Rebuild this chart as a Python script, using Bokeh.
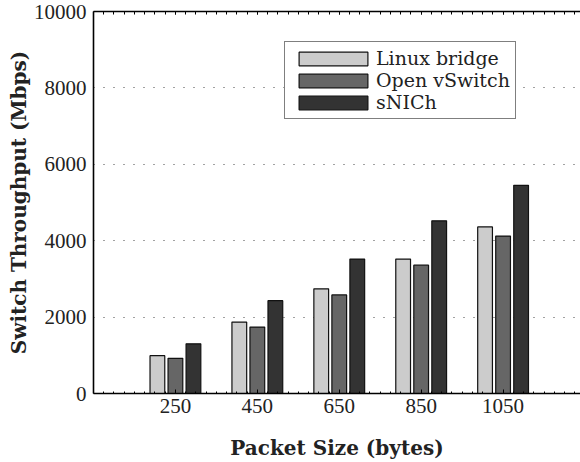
from bokeh.plotting import figure
from bokeh.models import (ColumnDataSource, Range1d, LinearAxis, FixedTicker,
                          Legend, LegendItem)
from bokeh.transform import dodge
from bokeh.embed import file_html
from bokeh.resources import INLINE

# ---- data ----
packet_sizes = [250, 450, 650, 850, 1050]
linux_bridge = [990, 1870, 2740, 3520, 4360]
open_vswitch = [920, 1740, 2580, 3360, 4120]
snich = [1300, 2430, 3520, 4520, 5450]
y_ticks = [0, 2000, 4000, 6000, 8000, 10000]
series_names = ["Linux bridge", "Open vSwitch", "sNICh"]

src = ColumnDataSource(dict(size=packet_sizes, linux=linux_bridge,
                            ovs=open_vswitch, snich=snich))

TICK_FONT = "Liberation Serif"
LEG_FONT = "DejaVu Serif"
BOLD_FONT = "DejaVu Serif"

X_START, X_END = 50, 1239
minor_x = list(range(X_START, X_END, 25))

p = figure(width=580, height=462, output_backend="svg", toolbar_location=None,
           x_range=Range1d(X_START, X_END), y_range=Range1d(0, 10000),
           min_border_left=93, min_border_right=0, min_border_top=11,
           min_border_bottom=69)
p.background_fill_color = "white"
p.border_fill_color = "white"
p.outline_line_color = None
p.outline_line_alpha = 0
p.outline_line_width = 0

bar_w = 36
off = 44
colors = ["#cccccc", "#666666", "#333333"]
fields = ["linux", "ovs", "snich"]
renderers = []
for f, c, d in zip(fields, colors, [-off, 0, off]):
    r = p.vbar(x=dodge("size", d, range=p.x_range), top=f, width=bar_w,
               bottom=0, source=src, fill_color=c, line_color="#111111",
               line_width=1.2)
    renderers.append(r)

# axes
xa = p.xaxis[0]
xa.ticker = FixedTicker(ticks=packet_sizes, minor_ticks=minor_x)
xa.axis_label = "Packet Size (bytes)"
xa.axis_label_text_font = BOLD_FONT
xa.axis_label_text_font_style = "bold"
xa.axis_label_text_font_size = "20px"
xa.axis_label_text_color = "#222222"
xa.axis_label_standoff = 20
xa.major_label_text_font = TICK_FONT
xa.major_label_text_font_size = "21px"
xa.major_label_text_color = "#222222"
xa.major_label_standoff = 5
xa.major_tick_in = 4
xa.major_tick_out = 0
xa.minor_tick_in = 2
xa.minor_tick_out = 0
xa.axis_line_width = 1.6
xa.axis_line_color = "black"

ya = p.yaxis[0]
ya.ticker = FixedTicker(ticks=y_ticks)
ya.axis_label = "Switch Throughput (Mbps)"
ya.axis_label_text_font = BOLD_FONT
ya.axis_label_text_font_style = "bold"
ya.axis_label_text_font_size = "20px"
ya.axis_label_text_color = "#222222"
ya.axis_label_standoff = 0
ya.major_label_text_font = TICK_FONT
ya.major_label_text_font_size = "21px"
ya.major_label_text_color = "#222222"
ya.major_label_standoff = 7
ya.major_tick_in = 0
ya.major_tick_out = 0
ya.minor_tick_line_color = None
ya.axis_line_width = 1.6
ya.axis_line_color = "black"

# top border with inward ticks only (no labels)
top = LinearAxis(ticker=FixedTicker(ticks=[], minor_ticks=minor_x + packet_sizes))
top.major_label_standoff = 0
top.major_tick_in = 0
top.major_tick_out = 0
top.minor_tick_in = 3
top.minor_tick_out = 0
top.axis_line_width = 1.6
top.axis_line_color = "black"
p.add_layout(top, "above")

p.xgrid.grid_line_color = None
p.ygrid.ticker = FixedTicker(ticks=y_ticks[1:-1])
p.ygrid.grid_line_color = "#444444"
p.ygrid.grid_line_dash = "1 9"
p.ygrid.grid_line_width = 1.2

legend = Legend(items=[LegendItem(label=n, renderers=[r])
                       for n, r in zip(series_names, renderers)],
                location=(191, 274))
legend.glyph_width = 86
legend.glyph_height = 17
legend.label_standoff = 0
legend.label_height = 22
legend.spacing = 0
legend.padding = 5
legend.margin = 0
legend.label_text_font = LEG_FONT
legend.label_text_font_size = "19px"
legend.label_text_color = "#222222"
legend.border_line_color = "black"
legend.border_line_width = 1.5
legend.background_fill_color = "white"
legend.background_fill_alpha = 1.0
p.add_layout(legend, "center")

open("out.html", "w").write(file_html(p, INLINE))
